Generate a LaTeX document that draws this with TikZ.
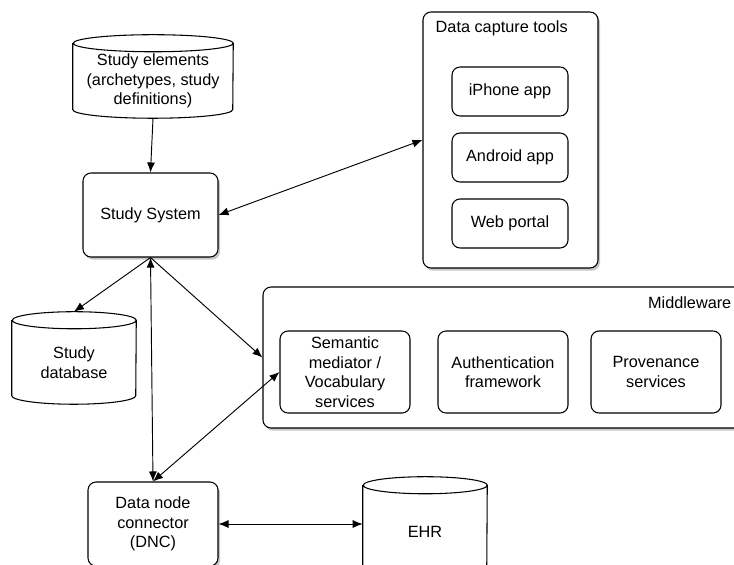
\documentclass[tikz,border=0pt]{standalone}
\usepackage{fontspec}
\setmainfont{Liberation Sans}
\usetikzlibrary{shadows,arrows.meta}

\begin{document}
\begin{tikzpicture}[x=0.75pt, y=0.75pt,
        font=\fontsize{12.2}{14.6}\selectfont,
        box/.style={draw, line width=0.8pt, rounded corners=6pt, fill=white,
            align=center, inner sep=0pt},
        shadowbox/.style={box, drop shadow={shadow xshift=1.5pt,
            shadow yshift=-2pt, opacity=0.45}},
        store/.style={align=center, inner sep=0pt, minimum width=#1,
            append after command={\pgfextra{\let\storenode\tikzlastnode
                \draw[line width=0.8pt]
                    ([yshift=-3pt]\storenode.north west) -- ([yshift=9.8pt]\storenode.south west)
                    arc[start angle=180, end angle=360, x radius=0.5*#1, y radius=6.4pt]
                    -- ([yshift=-3pt]\storenode.north east)
                    arc[start angle=0, end angle=180, x radius=0.5*#1, y radius=6.4pt]
                    arc[start angle=180, end angle=360, x radius=0.5*#1, y radius=6.4pt];}}},
        link/.style={-{Latex[length=7.5pt, width=6pt]}, line width=0.7pt},
        twoway/.style={{Latex[length=7.5pt, width=6pt]}-{Latex[length=7.5pt, width=6pt]},
            line width=0.7pt}]
        \useasboundingbox (0,0) rectangle (734,-564);
        \clip (0,0) rectangle (734,-564);

        % Defining the stores
        \node[store=120pt, minimum height=62.25pt] (elements) at (153,-81)
            {Study elements\\(archetypes, study\\definitions)};
        \node[store=93pt, minimum height=69pt] (db) at (74,-362.5)
            {Study\\database};
        \node[store=93pt, minimum height=75pt] (ehr) at (425,-531.5) {EHR};

        % Defining the main boxes
        \node[shadowbox, minimum width=101.25pt, minimum height=63pt] (system) at (150.5,-215)
            {Study System};
        \node[shadowbox, minimum width=97.5pt, minimum height=63pt] (dnc) at (153,-524)
            {Data node\\connector\\(DNC)};

        % Data capture tools and their parts
        \node[shadowbox, minimum width=131.25pt, minimum height=192pt] (dct) at (510.5,-140) {};
        \node[anchor=base west] (dctlabel) at (431,-32) {Data capture tools};
        \node[box, minimum width=87pt, minimum height=36.75pt] (iphone) at (510,-91.5) {iPhone app};
        \node[box, minimum width=87pt, minimum height=36.75pt] (android) at (510,-157.5) {Android app};
        \node[box, minimum width=87pt, minimum height=36.75pt] (web) at (510,-223.5) {Web portal};

        % Middleware and its parts
        \node[shadowbox, minimum width=372.75pt, minimum height=105.75pt] (mw) at (511.5,-357.5) {};
        \node[anchor=base east] (mwlabel) at (736,-308) {Middleware};
        \node[box, minimum width=97.5pt, minimum height=61.5pt] (semantic) at (345,-372)
            {Semantic\\mediator /\\Vocabulary\\services};
        \node[box, minimum width=97.5pt, minimum height=61.5pt] (auth) at (503,-372)
            {Authentication\\framework};
        \node[box, minimum width=97.5pt, minimum height=61.5pt] (prov) at (656,-372)
            {Provenance\\services};

        % Defining the links between the boxes
        \draw[link] ([yshift=3.4pt]elements.south) -- (system.north);
        \draw[twoway] (system.east) -- (dct.west);
        \draw[link] (system.south) -- ([yshift=3.4pt]db.north);
        \draw[link] (system.south) -- (mw.west);
        \draw[twoway] (system.south) -- (dnc.north);
        \draw[twoway] (semantic.west) -- (dnc.north);
        \draw[twoway] (dnc.east) -- (dnc.east -| ehr.west);
    \end{tikzpicture}
\end{document}
